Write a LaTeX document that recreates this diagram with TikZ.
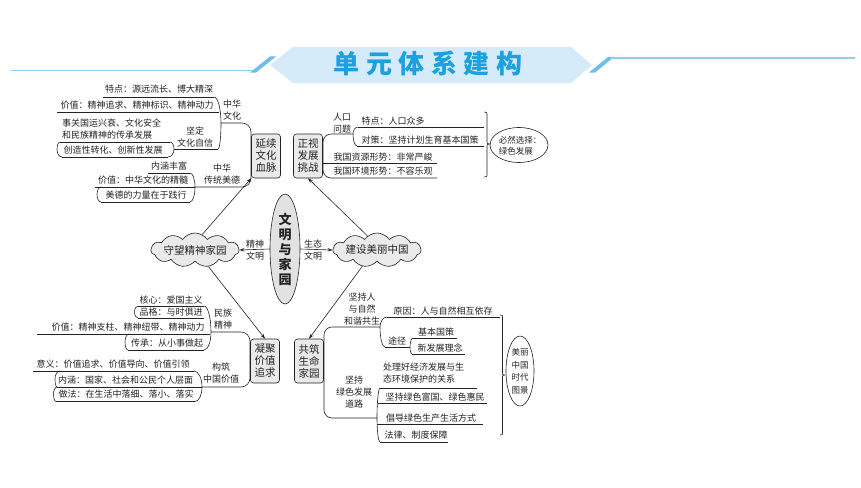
\documentclass[tikz,border=0pt]{standalone}
\usepackage{fontspec}
\setmainfont{Noto Sans CJK SC}
\usetikzlibrary{shapes.geometric,shapes.symbols,arrows.meta}
\definecolor{ttlblue}{RGB}{28,160,224}
\definecolor{bannerfill}{RGB}{214,235,249}
\definecolor{decoblue}{RGB}{110,190,235}
\definecolor{boxfill}{RGB}{234,234,234}
\definecolor{corefill}{RGB}{226,226,226}
\definecolor{ink}{RGB}{35,35,35}
\tikzset{
  itm/.style={inner sep=0pt, font=\fontsize{9}{12}\selectfont, text=ink},
  lbl/.style={inner sep=0pt, font=\fontsize{9}{12}\selectfont, align=center, text=ink},
  smalllbl/.style={inner sep=0pt, font=\fontsize{9}{12}\selectfont, align=center, text=ink},
  ln/.style={draw=ink, line width=0.6pt},
  boxnode/.style={draw=ink, line width=0.6pt, fill=boxfill, rounded corners=3pt, minimum width=29pt, minimum height=44pt, inner sep=0pt, align=center, font=\fontsize{10.5}{12}\selectfont, text=ink},
  cloudnode/.style={cloud, cloud puffs=11, cloud puff arc=110, cloud ignores aspect, draw=ink, line width=0.6pt, fill=boxfill, minimum width=88pt, minimum height=34pt, inner sep=0pt, font=\fontsize{10.5}{12}\selectfont, text=ink},
  arr/.style={draw=ink, line width=0.6pt, -{Stealth[length=5pt,width=3.5pt]}},
  ovalnode/.style={ellipse, draw=ink, line width=0.6pt, inner sep=0pt}
}
\newcommand{\mybrk}[6]{\draw[ln] (#1,#2) .. controls ({#1+0.55*(#3-#1)},#2) and (#3,{#4-0.55*(#4-#2)}) .. (#3,#4) .. controls (#3,{#4+0.55*(#6-#4)}) and ({#5+0.55*(#3-#5)},#6) .. (#5,#6);}
\newcommand{\mybrace}[5]{\draw[ln] (#1,#2) .. controls ({#1+#5/2},#2) .. ({#1+#5/2},{#2+4}) -- ({#1+#5/2},{#4-4}) .. controls ({#1+#5/2},#4) .. ({#1+#5},#4) .. controls ({#1+#5/2},#4) .. ({#1+#5/2},{#4+4}) -- ({#1+#5/2},{#3-4}) .. controls ({#1+#5/2},#3) .. (#1,#3);}
\begin{document}
\begin{tikzpicture}[x=1pt,y=-1pt]
\useasboundingbox (0,0) rectangle (861,487);
\fill[white] (0,0) rectangle (861,487);
% ---------- title ----------
\draw[decoblue!75, line width=1.3pt] (11,70.5) -- (254,70.5);
\fill[decoblue] (250,72.5) -- (256,72.5) -- (276,56.5) -- (270,56.5) -- cycle;
\fill[decoblue] (589,72.5) -- (595,72.5) -- (614,57) -- (608,57) -- cycle;
\draw[decoblue!75, line width=1.3pt] (611,58) -- (855,58);
\fill[bannerfill] (270,65) -- (293,47) -- (571,47) -- (592,65) -- (571,83) -- (293,83) -- cycle;
\node[font=\fontsize{26}{26}\selectfont\bfseries, text=ttlblue, inner sep=0pt] (ttl) at (428,64) {单\hspace{6.5pt}元\hspace{6.5pt}体\hspace{6.5pt}系\hspace{6.5pt}建\hspace{6.5pt}构};
% ---------- centre ----------
\node[ellipse, draw=ink, line width=0.6pt, fill=corefill, minimum width=30pt, minimum height=110pt, inner sep=0pt, align=center, font=\fontsize{13}{15}\selectfont\bfseries, text=ink] (core) at (285,249) {文\\明\\与\\家\\园};
\node[cloudnode] (cL) at (195,250) {守望精神家园};
\node[cloudnode] (cR) at (377,250) {建设美丽中国};
\draw[arr] (core.west) -- (cL.east);
\draw[arr] (core.east) -- (cR.west);
\node[smalllbl] (lJ) at (255,250) {精神\\文明};
\node[smalllbl] (lS) at (313,250) {生态\\文明};
% boxes
\node[boxnode] (bA) at (266,156) {延续\\文化\\血脉};
\node[boxnode] (bB) at (308,156) {正视\\发展\\挑战};
\node[boxnode] (bC) at (265,361) {凝聚\\价值\\追求};
\node[boxnode] (bD) at (309,361) {共筑\\生命\\家园};
\draw[arr] (cL.65) -- (bA.south west);
\draw[arr] (cR.124) -- (bB.south);
\draw[arr] (cL.-51) -- (bC.north);
\draw[arr] (cR.-132) -- (bD.north);
% ---------- upper left ----------
\node[itm] (t1) at (159,89.5) {特点：源远流长、博大精深};
\draw[ln] (103,97) -- (214,97);
\node[itm] (t2) at (137,105) {价值：精神追求、精神标识、精神动力};
\draw[ln] (57,112) -- (219,112);
\node[itm, align=left, anchor=west] (t3) at (62,129) {事关国运兴衰、文化安全\\和民族精神的传承发展};
\draw[ln] (60,142) -- (170,142);
\node[itm] (t4) at (113,150) {创造性转化、创新性发展};
\draw[ln] (62,157) -- (168,157);
\mybrk{60}{142}{57}{149.5}{62}{157}
\mybrk{170}{142}{174}{149}{168}{157}
\draw[ln] (174,149) -- (218,149);
\node[lbl] (t5) at (195,137) {坚定\\文化自信};
\mybrk{214}{97}{221}{123}{218}{149}
\draw[ln, rounded corners=9pt] (221,123) -- (251,123) -- (251,187) -- (195,187);
\node[lbl] (t6) at (232,110) {中华\\文化};
\node[lbl] (t7) at (222,174) {中华\\传统美德};
\node[itm] (t8) at (169,166) {内涵丰富};
\draw[ln] (148,173) -- (190,173);
\node[itm] (t9) at (143,180) {价值：中华文化的精髓};
\draw[ln] (95,187) -- (195,187);
\node[itm] (t10) at (146,195) {美德的力量在于践行};
\draw[ln] (101,202) -- (190,202);
\mybrk{101}{187}{97}{194.5}{101}{202}
\mybrk{190}{173}{195}{187}{190}{202}
% ---------- upper right ----------
\node[lbl] (u1) at (342,123) {人口\\问题};
\draw[ln, rounded corners=8pt] (353,134) -- (323,134) -- (323,178) -- (437,178);
\mybrk{358}{127}{353}{134}{357}{146}
\draw[ln] (358,127) -- (484,127);
\node[itm] (u2) at (393,121) {特点：人口众多};
\node[itm] (u3) at (420,140) {对策：坚持计划生育基本国策};
\draw[ln] (357,146) -- (484,146);
\node[itm] (u4) at (383,157) {我国资源形势：非常严峻};
\draw[ln] (323,163) -- (437,163);
\node[itm] (u5) at (383,171.5) {我国环境形势：不容乐观};
\mybrace{484}{112}{177}{144}{6}
\node[ovalnode, minimum width=58pt, minimum height=35pt] (eA) at (519,145) {};
\node[lbl, align=left, font=\fontsize{8.5}{11}\selectfont] (eAt) at (520,145.5) {必然选择：\\绿色发展};
% ---------- lower left ----------
\node[itm] (v1) at (171,300) {核心：爱国主义};
\draw[ln] (138,306) -- (204,306);
\node[itm] (v2) at (171,312) {品格：与时俱进};
\draw[ln] (138,318) -- (204,318);
\mybrk{138}{306}{134.5}{312}{138}{318}
\node[itm] (v3) at (128,327.5) {价值：精神支柱、精神纽带、精神动力};
\draw[ln] (37,334) -- (210,334);
\node[itm] (v4) at (167,343) {传承：从小事做起};
\draw[ln] (128,350) -- (204,350);
\mybrk{129}{334}{125}{342}{128}{350}
\mybrk{204}{306}{211}{332}{204}{350}
\node[lbl] (v5) at (223,319) {民族\\精神};
\draw[ln, rounded corners=9pt] (211,332) -- (250,332) -- (250,387) -- (202,387);
\node[itm] (v6) at (113,364.5) {意义：价值追求、价值导向、价值引领};
\draw[ln] (33,371) -- (194,371);
\node[itm] (v7) at (125.5,380) {内涵：国家、社会和公民个人层面};
\draw[ln] (57,387) -- (202,387);
\mybrk{60}{371}{55}{379}{57}{387}
\node[itm] (v8) at (126,394.5) {做法：在生活中落细、落小、落实};
\draw[ln] (56,401.5) -- (195,401.5);
\mybrk{57}{387}{53.5}{394}{56}{401.5}
\mybrk{194}{371}{202}{387}{195}{401.5}
\node[lbl] (v9) at (221,373) {构筑\\中国价值};
% ---------- lower right ----------
\node[lbl] (w1) at (362,309) {坚持人\\与自然\\和谐共生};
\draw[ln, rounded corners=8pt] (380,327) -- (324,327) -- (324,418) -- (377,418);
\node[itm] (w2) at (443,311) {原因：人与自然相互依存};
\draw[ln] (387,317) -- (500,317);
\node[itm] (w3) at (397,341) {途径};
\draw[ln] (385,347) -- (410,347);
\mybrk{387}{317}{380}{327}{385}{347}
\node[itm] (w4) at (436,332) {基本国策};
\draw[ln] (413,338) -- (457,338);
\node[itm] (w5) at (440,348) {新发展理念};
\draw[ln] (412,354) -- (465,354);
\mybrk{413}{338}{410}{347}{412}{354}
\node[itm, align=left, anchor=west] (w6) at (383,373) {处理好经济发展与生\\态环境保护的关系};
\draw[ln] (380,388) -- (477,388);
\node[itm] (w7) at (435,397) {坚持绿色富国、绿色惠民};
\draw[ln] (377.5,403) -- (487,403);
\node[itm] (w8) at (431,418) {倡导绿色生产生活方式};
\draw[ln] (377,424) -- (483,424);
\node[itm] (w9) at (416,435.5) {法律、制度保障};
\draw[ln] (380,442) -- (448,442);
\mybrk{380}{388}{377}{418}{380}{442}
\node[lbl] (w10) at (354,392) {坚持\\绿色发展\\道路};
\mybrace{500}{315}{435}{375}{5}
\node[ovalnode, minimum width=28pt, minimum height=70pt] (eB) at (520,371) {};
\node[lbl, font=\fontsize{8.5}{12.5}\selectfont] (eBt) at (520,371) {美丽\\中国\\时代\\图景};
\end{tikzpicture}
\end{document}
